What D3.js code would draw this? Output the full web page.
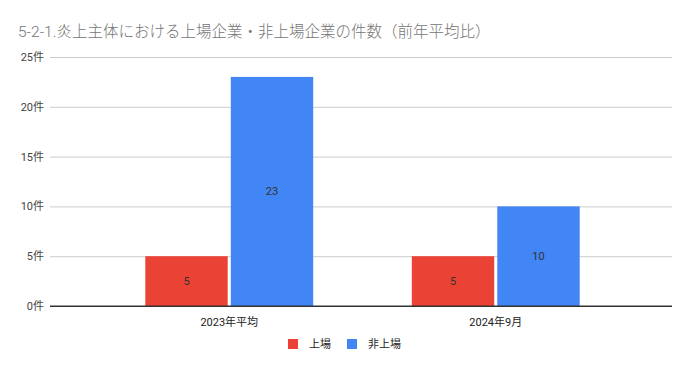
<!DOCTYPE html>
<html>
<head>
<meta charset="utf-8">
<script src="https://cdn.jsdelivr.net/npm/d3@7"></script>
<style>
  body { margin: 0; background: #fff; }
  svg text { font-family: Roboto, "Noto Sans CJK JP", sans-serif; }
</style>
</head>
<body>
<svg id="chart" width="692" height="371"></svg>
<script>
let categories = ["2023年平均", "2024年9月"];
let series = ["上場", "非上場"];
let listed = [5, 5];
let unlisted = [23, 10];
let yTicks = [0, 5, 10, 15, 20, 25];
let colors = ["#ea4335", "#4285f4"];

let width = 692, height = 371;
let svg = d3.select("#chart");

let rows = categories.map(function(c, i){
  return {cat: c, values: [listed[i], unlisted[i]]};
});

let y = d3.scaleLinear().domain([0, 25]).range([306, 57]);
let x0 = d3.scaleBand().domain(categories).range([96, 629]).paddingInner(0.37).paddingOuter(0.185);
let x1 = d3.scaleBand().domain(series).range([0, x0.bandwidth()]).paddingInner(0.036);

// title
svg.append("text")
  .attr("x", 18).attr("y", 37)
  .style("font-size", "15.5px")
  .style("font-weight", "300")
  .style("fill", "#757575")
  .text("5-2-1.炎上主体における上場企業・非上場企業の件数（前年平均比）");

// gridlines + y labels
let yAxis = svg.append("g").attr("transform", "translate(50,0)")
  .call(d3.axisRight(y).tickValues(yTicks).tickSize(622).tickFormat(d => d + "件"));
yAxis.select(".domain").remove();
yAxis.selectAll(".tick line").style("stroke", d => d == 0 ? "#333" : "#ccc");
yAxis.selectAll(".tick text")
  .attr("x", -6).attr("dy", "0.32em")
  .style("text-anchor", "end")
  .style("font-size", "11px")
  .style("fill", "#444");

// bars
let groups = svg.selectAll(".group")
  .data(rows)
  .enter()
  .append("g")
  .attr("class", "group")
  .attr("transform", d => "translate(" + x0(d.cat) + ",0)");

groups.selectAll("rect")
  .data(d => d.values.map((v, i) => ({s: series[i], v: v, i: i})))
  .enter()
  .append("rect")
  .attr("x", d => x1(d.s))
  .attr("width", x1.bandwidth())
  .attr("y", d => y(d.v))
  .attr("height", d => y(0) - y(d.v))
  .style("fill", d => colors[d.i]);

groups.selectAll(".val")
  .data(d => d.values.map((v, i) => ({s: series[i], v: v})))
  .enter()
  .append("text")
  .attr("x", d => x1(d.s) + x1.bandwidth()/2)
  .attr("y", d => (y(d.v) + y(0))/2)
  .attr("dy", "0.35em")
  .style("text-anchor", "middle")
  .style("font-size", "11px")
  .style("fill", "#333")
  .text(d => d.v);

// baseline on top
svg.append("line")
  .attr("x1", 50).attr("x2", 672)
  .attr("y1", y(0)).attr("y2", y(0))
  .style("stroke", "#333");

// x labels
svg.selectAll(".xlab")
  .data(categories)
  .enter()
  .append("text")
  .attr("x", d => x0(d) + x0.bandwidth()/2)
  .attr("y", 326)
  .style("text-anchor", "middle")
  .style("font-size", "11px")
  .style("fill", "#222")
  .text(d => d);

// legend
let legendX = [288, 347];
series.forEach(function(s, i){
  svg.append("rect")
    .attr("x", legendX[i]).attr("y", 339)
    .attr("width", 10).attr("height", 10)
    .style("fill", colors[i]);
  svg.append("text")
    .attr("x", legendX[i] + 21).attr("y", 348)
    .style("font-size", "11px")
    .style("fill", "#222")
    .text(s);
});
</script>
</body>
</html>
